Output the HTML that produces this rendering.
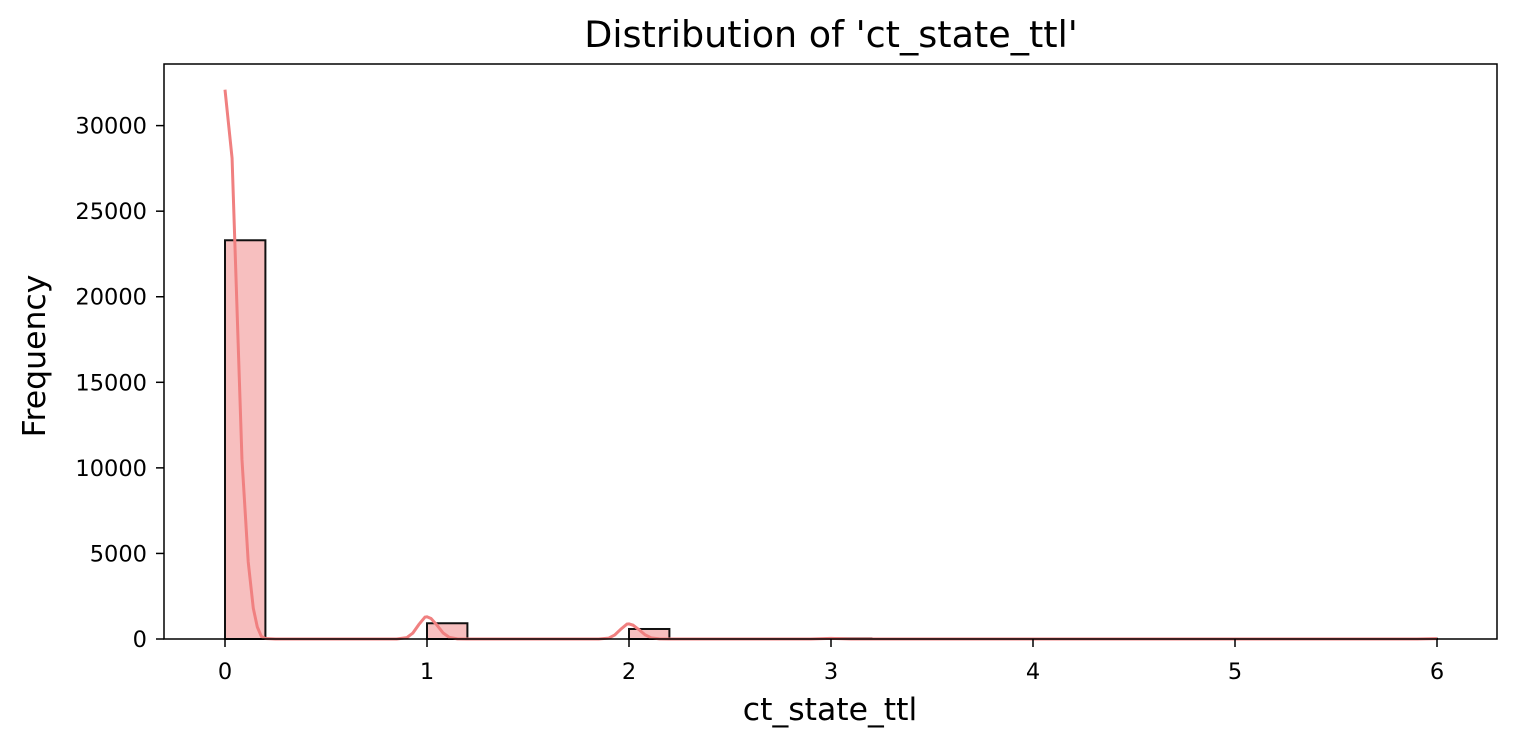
<!DOCTYPE html>
<html><head><meta charset="utf-8"><style>
body{margin:0;background:#fff;}
svg{display:block;font-family:"DejaVu Sans","Liberation Sans",sans-serif;}
</style></head><body>
<svg id="chart" width="1517" height="747">
<text x="831" y="47" font-size="36.5" text-anchor="middle">Distribution of 'ct_state_ttl'</text>
<text x="830" y="720" font-size="31.5" text-anchor="middle">ct_state_ttl</text>
<text transform="translate(45,356) rotate(-90)" font-size="31.5" text-anchor="middle">Frequency</text>
<g id="bars"></g><g id="kde"></g><g id="ticks"></g>
<rect x="164" y="64" width="1333" height="575" fill="none" stroke="#000" stroke-width="1.5"/>
</svg>
<script>
const binEdgesStart = 0, binWidth = 0.2;
const counts = [23300,0,0,0,0,920,0,0,0,0,585,0,0,0,0,40,0,0,0,0,0,0,0,0,0,0,0,0,0,15];
const kdeX = [0,0.035,0.084,0.115,0.14,0.16,0.18,0.2,0.25,0.85,0.9,0.93,0.96,0.99,1.0,1.02,1.05,1.08,1.11,1.15,1.2,1.85,1.9,1.93,1.96,1.99,2.0,2.02,2.05,2.08,2.11,2.15,2.2,2.9,3.0,3.1,5.9,6.0];
const kdeY = [32100,28100,10500,4500,1800,700,150,30,0,0,80,350,850,1280,1300,1200,800,350,100,10,0,0,55,240,580,870,880,810,540,240,70,8,0,0,40,0,0,20];
const xTicks = [0,1,2,3,4,5,6];
const yTicks = [0,5000,10000,15000,20000,25000,30000];
const ns="http://www.w3.org/2000/svg";
const X = v => 225 + v*202;
const Y = v => 639 - v*0.017113;
const bars=document.getElementById('bars'), kde=document.getElementById('kde'), ticks=document.getElementById('ticks');
counts.forEach((c,i)=>{
  if(c<=0) return;
  const r=document.createElementNS(ns,'rect');
  const x0=X(binEdgesStart+i*binWidth), x1=X(binEdgesStart+(i+1)*binWidth);
  r.setAttribute('x',x0);r.setAttribute('y',Y(c));r.setAttribute('width',x1-x0);r.setAttribute('height',Y(0)-Y(c));
  r.setAttribute('fill','rgba(240,128,128,0.5)');r.setAttribute('stroke','#111');r.setAttribute('stroke-width','2');
  
  
  bars.appendChild(r);
});
const p=document.createElementNS(ns,'path');
p.setAttribute('d',kdeX.map((x,i)=>(i?'L':'M')+X(x)+','+Y(kdeY[i])).join(' '));
p.setAttribute('fill','none');p.setAttribute('stroke','#f08080');p.setAttribute('stroke-width','3');


kde.appendChild(p);
xTicks.forEach(t=>{
  const l=document.createElementNS(ns,'line');
  l.setAttribute('x1',X(t));l.setAttribute('x2',X(t));l.setAttribute('y1',639);l.setAttribute('y2',647);l.setAttribute('stroke','#000');l.setAttribute('stroke-width','1.5');
  
  
  ticks.appendChild(l);
  const tx=document.createElementNS(ns,'text');
  tx.setAttribute('x',X(t));tx.setAttribute('y',679);tx.setAttribute('font-size','22.5');tx.setAttribute('text-anchor','middle');tx.textContent=t;
  
  
  ticks.appendChild(tx);
});
yTicks.forEach(t=>{
  const l=document.createElementNS(ns,'line');
  l.setAttribute('x1',156);l.setAttribute('x2',164);l.setAttribute('y1',Y(t));l.setAttribute('y2',Y(t));l.setAttribute('stroke','#000');l.setAttribute('stroke-width','1.5');
  
  
  ticks.appendChild(l);
  const tx=document.createElementNS(ns,'text');
  tx.setAttribute('x',147);tx.setAttribute('y',Y(t)+8);tx.setAttribute('font-size','22.5');tx.setAttribute('text-anchor','end');tx.textContent=t;
  
  
  ticks.appendChild(tx);
});
</script>
</body></html>
